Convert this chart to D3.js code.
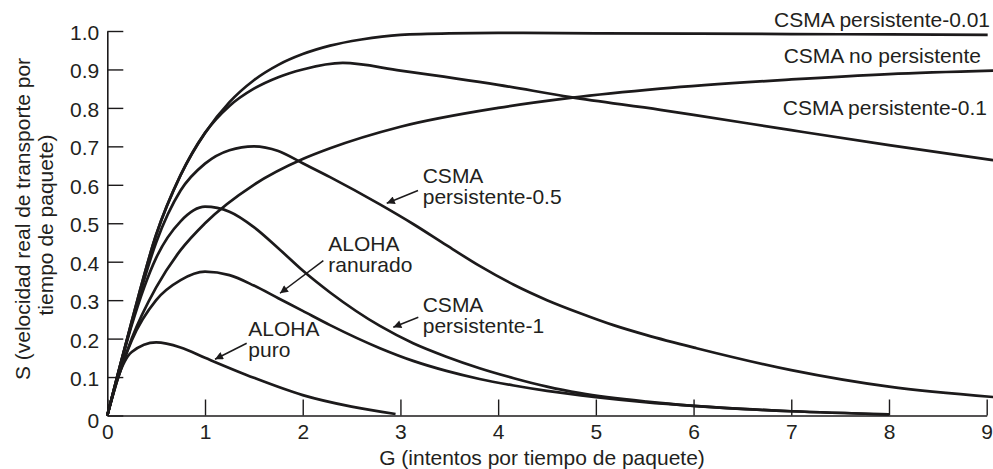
<!DOCTYPE html>
<html><head><meta charset="utf-8">
<script src="https://cdn.jsdelivr.net/npm/d3@7"></script>
<style>
body{margin:0;background:#fff}
svg{display:block}
text{font-family:"Liberation Sans",Arial,Helvetica,sans-serif;fill:#231f20}
</style>
</head><body>
<svg id="chart" width="993" height="469"></svg>
<script>
// ---- axis ticks ----
const xTicks = [0,1,2,3,4,5,6,7,8,9];
const xTickLabels = ["0","1","2","3","4","5","6","7","8","9"];
const yTicks = [0,0.1,0.2,0.3,0.4,0.5,0.6,0.7,0.8,0.9,1.0];
const yTickLabels = ["0","0.1","0.2","0.3","0.4","0.5","0.6","0.7","0.8","0.9","1.0"];
const xTitle = "G (intentos por tiempo de paquete)";
const yTitleLines = ["S (velocidad real de transporte por","tiempo de paquete)"];

// ---- series (G, S) ----
const gAlohaPuro = [0,0.1,0.25,0.5,0.75,1,1.5,2,2.5,2.95];
const sAlohaPuro = [0,0.092,0.165,0.19,0.177,0.15,0.098,0.053,0.023,0.004];

const gAlohaRanurado = [0,0.1,0.25,0.5,0.75,1,1.25,1.5,1.75,2,2.28,2.79,3.13,3.47,3.81,4.16,4.5,5,5.5,6,7,8];
const sAlohaRanurado = [0,0.09,0.195,0.3,0.352,0.374,0.365,0.338,0.305,0.272,0.235,0.175,0.142,0.116,0.095,0.078,0.064,0.048,0.035,0.025,0.011,0.003];

const gCsma1 = [0,0.1,0.25,0.5,0.75,1,1.25,1.5,1.75,2,2.28,2.79,3.13,3.47,3.81,4.16,4.5,4.84,5.52,6,7,8];
const sCsma1 = [0,0.097,0.235,0.41,0.505,0.543,0.53,0.49,0.435,0.377,0.32,0.233,0.188,0.153,0.123,0.097,0.075,0.058,0.036,0.025,0.011,0.003];

const gCsma05 = [0,0.1,0.25,0.5,0.75,1,1.25,1.5,1.75,2,2.28,2.79,3.13,3.47,3.81,4.16,4.5,4.84,5.18,5.52,6.03,7,8,9.07];
const sCsma05 = [0,0.099,0.24,0.45,0.585,0.655,0.69,0.70,0.688,0.656,0.62,0.549,0.498,0.443,0.389,0.34,0.30,0.266,0.235,0.209,0.175,0.118,0.075,0.048];

const gCsma01 = [0,0.1,0.25,0.5,0.75,1,1.25,1.5,1.75,2,2.41,3,4,4.74,5.66,6,7,8,9.07];
const sCsma01 = [0,0.1,0.245,0.47,0.625,0.735,0.805,0.85,0.88,0.9,0.917,0.897,0.86,0.828,0.795,0.782,0.742,0.703,0.664];

const gCsmaNoPers = [0,0.1,0.25,0.5,0.75,1,1.5,2,2.28,3,4,4.74,5.66,7,8,9.07];
const sCsmaNoPers = [0,0.09,0.2,0.333,0.43,0.5,0.6,0.667,0.695,0.751,0.80,0.826,0.85,0.874,0.888,0.897];

const gCsma001 = [0,0.1,0.25,0.5,0.75,1,1.25,1.5,1.75,2,2.28,2.6,3,3.5,4,5,6,7,8,9.01];
const sCsma001 = [0,0.1,0.245,0.47,0.625,0.735,0.815,0.872,0.912,0.94,0.962,0.978,0.99,0.994,0.995,0.994,0.993,0.992,0.991,0.99];

// ---- annotation text and arrows (data coordinates) ----
const labelTexts = [
  ["CSMA persistente-0.01"],
  ["CSMA no persistente"],
  ["CSMA persistente-0.1"],
  ["CSMA","persistente-0.5"],
  ["ALOHA","ranurado"],
  ["CSMA","persistente-1"],
  ["ALOHA","puro"]
];
const labelG = [9.034, 8.941, 9.003, 3.228, 2.262, 3.228, 1.443];
const labelS = [1.01, 0.916, 0.7815, 0.604, 0.4286, 0.270, 0.2068];
const labelAnchor = ["end","end","end","start","start","start","start"];

const arrowFromG = [3.18, 2.211, 3.183, 1.4267];
const arrowFromS = [0.585, 0.4026, 0.2554, 0.1878];
const arrowToG   = [2.86, 1.7675, 2.927, 1.1023];
const arrowToS   = [0.552, 0.318, 0.2294, 0.1462];

// ---- build ----
const series = [
  [gAlohaPuro, sAlohaPuro],
  [gAlohaRanurado, sAlohaRanurado],
  [gCsma1, sCsma1],
  [gCsma05, sCsma05],
  [gCsma01, sCsma01],
  [gCsmaNoPers, sCsmaNoPers],
  [gCsma001, sCsma001]
].map(([g,s]) => g.map((v,i)=>({g:v, s:s[i]})));

const svg = d3.select("#chart");
const x = d3.scaleLinear().domain([0,9]).range([107.3,986.7]);
const y = d3.scaleLinear().domain([0,1]).range([415.5,31]);
const ink = "#1c1a1b";
const fs = 21;

// axes
const yAxis = d3.axisLeft(y).tickValues(yTicks)
  .tickFormat((d,i)=>yTickLabels[i]).tickSizeInner(-16).tickSizeOuter(0).tickPadding(8);
const gy = svg.append("g").attr("transform",`translate(${x(0)},0)`).call(yAxis);
const xAxis = d3.axisBottom(x).tickValues(xTicks)
  .tickFormat((d,i)=>xTickLabels[i]).tickSizeInner(-16).tickSizeOuter(0).tickPadding(9);
const gx = svg.append("g").attr("transform",`translate(0,${y(0)})`).call(xAxis);

[gx,gy].forEach(g=>{
  g.attr("font-size",fs).attr("font-family",null);
  g.selectAll("path.domain").attr("stroke",ink).attr("stroke-width",1.6);
  g.selectAll(".tick line").attr("stroke",ink).attr("stroke-width",1.4);
  g.selectAll(".tick text").attr("fill","#231f20");
});
gy.selectAll(".tick text").attr("dy",(d)=> d===0 ? "0.55em" : "0.4em");

// axis titles
svg.append("text").attr("x",542).attr("y",465).attr("text-anchor","middle")
  .attr("font-size",fs).text(xTitle);
const yt = svg.append("g");
yt.append("text").attr("transform","translate(30,219) rotate(-90)").attr("text-anchor","middle")
  .attr("font-size",fs).text(yTitleLines[0]);
yt.append("text").attr("transform","translate(53,225) rotate(-90)").attr("text-anchor","middle")
  .attr("font-size",fs).text(yTitleLines[1]);

// curves
const line = d3.line().x(d=>x(d.g)).y(d=>y(d.s)).curve(d3.curveMonotoneX);
svg.append("g").selectAll("path").data(series).join("path")
  .attr("d",line).attr("fill","none").attr("stroke",ink)
  .attr("stroke-width",2.7).attr("stroke-linejoin","round").attr("stroke-linecap","butt");

// arrows
svg.append("defs").append("marker").attr("id","ah")
  .attr("viewBox","0 0 10 10").attr("refX",10).attr("refY",5)
  .attr("markerWidth",11).attr("markerHeight",8).attr("markerUnits","userSpaceOnUse")
  .attr("orient","auto")
  .append("path").attr("d","M0,0L10,5L0,10z").attr("fill",ink);
svg.append("g").selectAll("line").data(arrowFromG).join("line")
  .attr("x1",(d,i)=>x(arrowFromG[i])).attr("y1",(d,i)=>y(arrowFromS[i]))
  .attr("x2",(d,i)=>x(arrowToG[i])).attr("y2",(d,i)=>y(arrowToS[i]))
  .attr("stroke",ink).attr("stroke-width",1.5).attr("marker-end","url(#ah)");

// labels
const lg = svg.append("g").attr("font-size",fs);
labelTexts.forEach((lines,i)=>{
  const t = lg.append("text").attr("x",x(labelG[i])).attr("y",y(labelS[i]))
    .attr("text-anchor",labelAnchor[i]);
  lines.forEach((ln,j)=>{
    t.append("tspan").attr("x",x(labelG[i])).attr("dy", j===0?0:21).text(ln);
  });
});
</script>
</body></html>
